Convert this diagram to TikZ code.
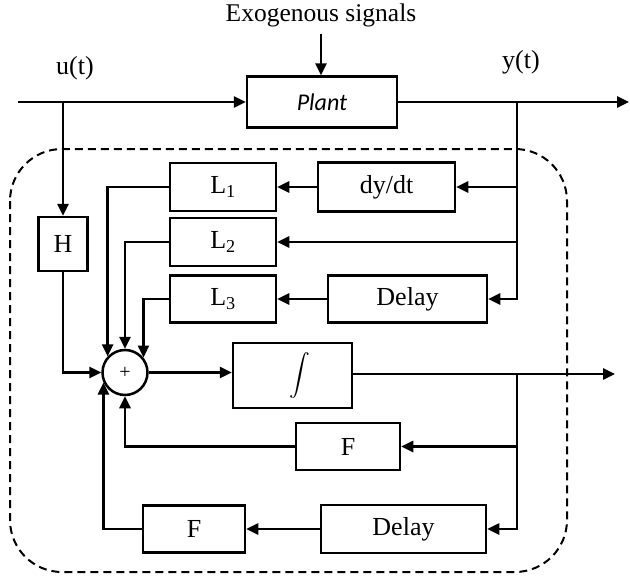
\documentclass[tikz,border=0pt]{standalone}
\usepackage{amsmath}
\usepackage{fontspec}
\setmainfont{Liberation Serif}
\newfontfamily\plantfont{Carlito}
\usetikzlibrary{arrows.meta,calc}
\begin{document}
\begin{tikzpicture}[x=1pt,y=-1pt, line width=2.5pt,
  >={Triangle[length=12pt,width=11pt]},
  blk/.style={draw, rectangle, inner sep=0pt, font=\fontsize{26}{28}\selectfont},
  lbl/.style={inner sep=0pt, font=\fontsize{26}{28}\selectfont},
  dashbox/.style={draw, line width=2pt, dash pattern=on 8pt off 5pt, rounded corners=52pt}]
\useasboundingbox (0,0) rectangle (630,581);
% dashed controller boundary
\path[dashbox] (10,149) rectangle (567,572);
% labels
\node[lbl, font=\fontsize{25.5}{27}\selectfont] (exo) at (321,15) {Exogenous signals};
\node[lbl] (ut) at (75,68) {u(t)};
\node[lbl] (yt) at (521,62) {y(t)};
% blocks
\node[blk, minimum width=150pt, minimum height=51pt] (plant) at (322,102) {\plantfont\itshape\fontsize{24}{26}\selectfont Plant};
\node[blk, minimum width=49pt, minimum height=54pt] (H) at (63,244) {H};
\node[blk, minimum width=106pt, minimum height=48pt] (L1) at (223,187) {L\textsubscript{1}};
\node[blk, minimum width=137pt, minimum height=49pt] (dydt) at (386.5,187) {dy/dt};
\node[blk, minimum width=106pt, minimum height=48pt] (L2) at (223,242) {L\textsubscript{2}};
\node[blk, minimum width=106pt, minimum height=47pt] (L3) at (223,299) {L\textsubscript{3}};
\node[blk, minimum width=159pt, minimum height=47pt] (d1) at (407.5,299) {Delay};
\node[draw, circle, minimum size=45pt, inner sep=0pt, font=\fontsize{20}{20}\selectfont] (sum) at (125,372.5) {+};
\node[blk, minimum width=119pt, minimum height=65pt] (int) at (292.5,375.5) {\hspace*{14pt}\fontsize{20}{22}\selectfont$\displaystyle\int$};
\node[blk, minimum width=104pt, minimum height=47pt] (F1) at (348,446.5) {F};
\node[blk, minimum width=165pt, minimum height=48pt] (d2) at (403.5,529) {Delay};
\node[blk, minimum width=102pt, minimum height=47pt] (F2) at (194,529) {F};
% coordinates
\coordinate (in) at (18,102);
\coordinate (uj) at (63,102);
\coordinate (yj) at (517,102);
\coordinate (out) at (629,102);
\coordinate (ij) at (517,374);
\coordinate (iout) at (615,374);
% plant
\draw[->] (exo.south) ++(0,6) -- (exo.south |- plant.north);
\draw[->] (in) -- (plant.west);
\draw[->] (plant.east) -- (out);
% input branch
\draw[->] (uj) -- (H.north);
\draw[->] (H.south) |- (sum.west);
% output branch
\draw[->] (yj) |- (d1.east);
\draw[->] (yj |- dydt.east) -- (dydt.east);
\draw[->] (yj |- L2.east) -- (L2.east);
\draw[->] (dydt.west) -- (L1.east);
\draw[->] (d1.west) -- (L3.east);
% into the sum
\draw[->] (L1.west) -| (sum.137);
\draw[->] (L2.west) -| (sum.north);
\draw[->] (L3.west) -| (sum.39);
% integrator
\draw[->] (sum.east) -- (sum.east -| int.west);
\draw[->] (int.east |- ij) -- (iout);
\draw[->] (ij) |- (d2.east);
\draw[->] (ij |- F1.east) -- (F1.east);
\draw[->] (d2.west) -- (F2.east);
\draw[->] (F1.west) -| (sum.south);
\draw[->] (F2.west) -| (sum.205);
\end{tikzpicture}
\end{document}
